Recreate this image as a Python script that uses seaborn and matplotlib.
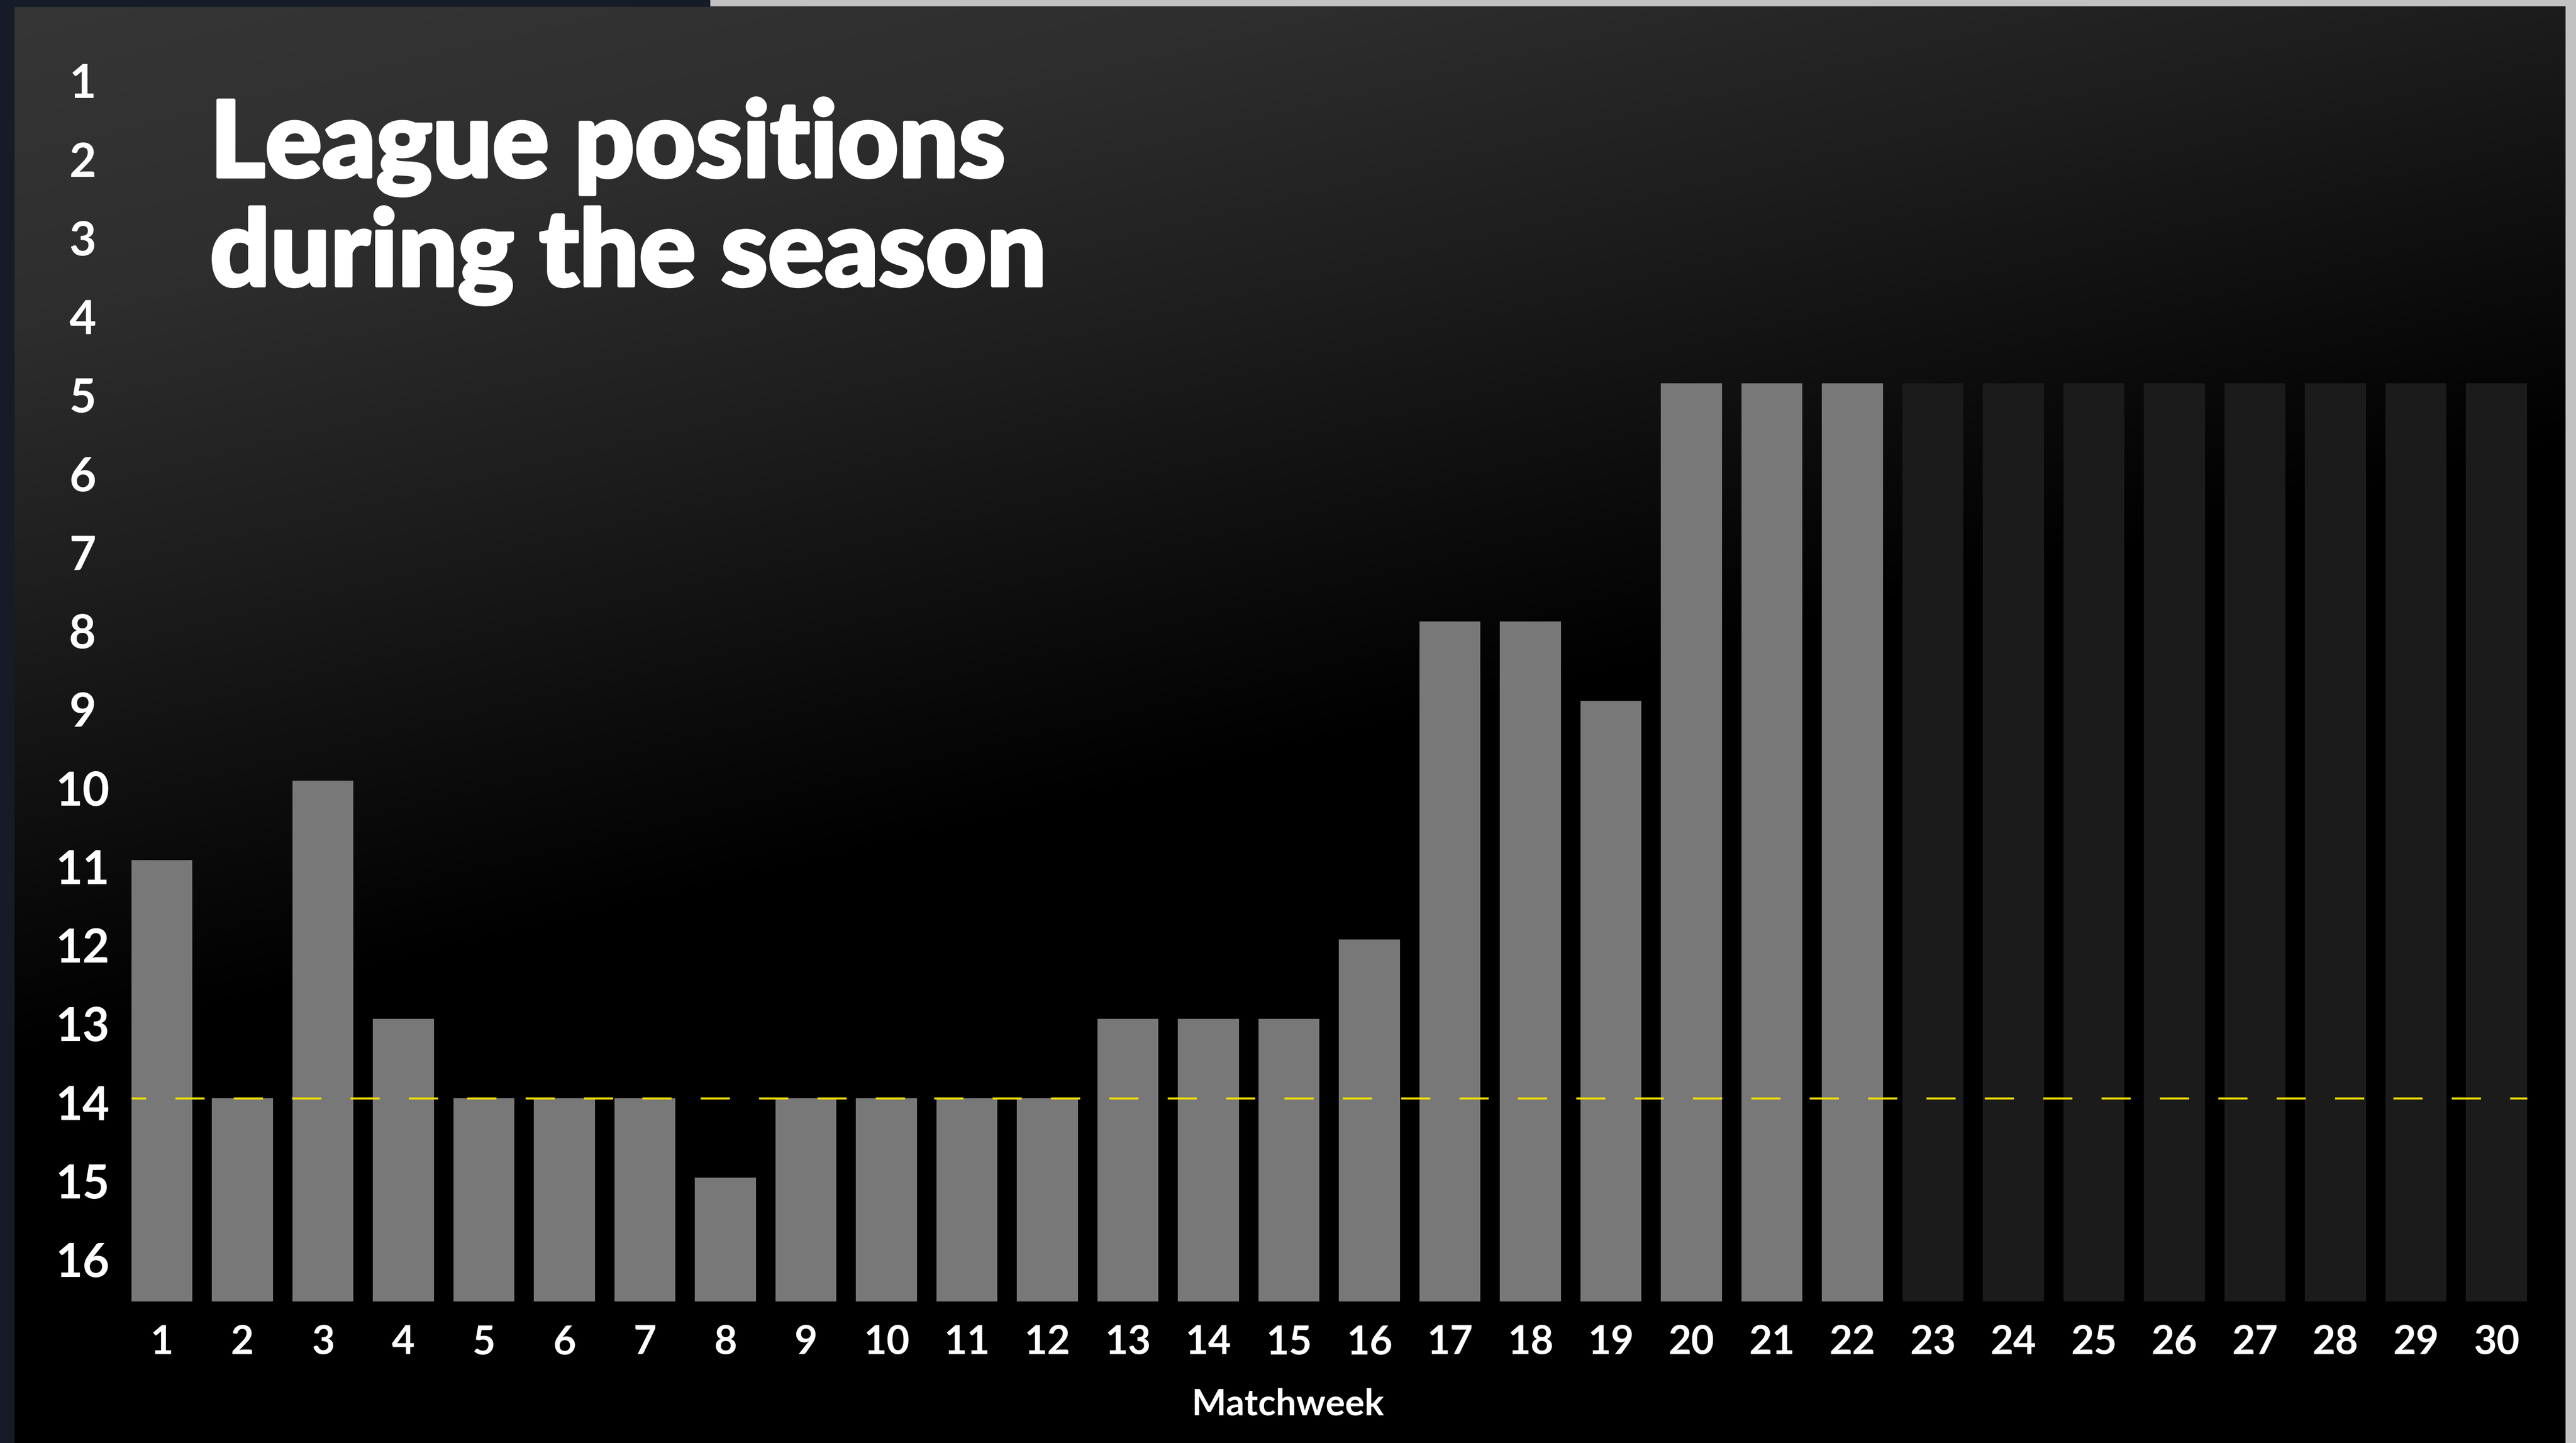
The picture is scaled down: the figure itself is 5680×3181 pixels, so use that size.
import numpy as np
import pandas as pd
import matplotlib
matplotlib.use('Agg')
import matplotlib.pyplot as plt
import matplotlib.patheffects as pe
import seaborn as sns

# data
weeks = [str(w) for w in range(1, 31)]
played = [11, 14, 10, 13, 14, 14, 14, 15, 14, 14, 14, 14, 13, 13, 13, 12, 8, 8, 9, 5, 5, 5]
future = [5, 5, 5, 5, 5, 5, 5, 5]
pos_ticks = list(range(1, 17))
ref_line = 14
title_lines = ['League positions', 'during the season']

BASE = 16.56  # bars start just below position 16

sns.set_theme(style='white')
plt.rcParams['font.family'] = ['Lato', 'DejaVu Sans']

df = pd.DataFrame({
    'week': weeks,
    'position': played + future,
    'status': ['played'] * len(played) + ['future'] * len(future),
})
df['height'] = df['position'] - BASE

W, H = 5680, 3181
fig = plt.figure(figsize=(W / 100, H / 100), dpi=100)
fig.patch.set_facecolor('#c2c2c2')

# photo bits at left / top-left
fig.patches.append(plt.Rectangle((0, 0), 31 / W, 1, transform=fig.transFigure,
                                 color='#151c28', zorder=0))
fig.patches.append(plt.Rectangle((0, 1 - 14 / H), 1565 / W, 14 / H, transform=fig.transFigure,
                                 color='#151c28', zorder=0))

# gradient panel
px0, px1, py0 = 31, 5657, 14
bg = fig.add_axes([px0 / W, 0, (px1 - px0) / W, (H - py0) / H])
xs = np.linspace(px0, px1, 300)
ys = np.linspace(py0, H, 300)
X, Y = np.meshgrid(xs, ys)
t = Y + 0.24 * X
v = np.interp(t, [0, 700, 1350, 2070, 2350], [54, 46, 29, 8, 0]) / 255
bg.imshow(np.dstack([v, v, v]), aspect='auto', interpolation='bilinear',
          extent=[0, 1, 0, 1])
bg.set_axis_off()

# axes: position 14 at y=2421px, 175.1px per place
step, y14 = 175.1, 2421
top_px = y14 - (14 - 0.5) * step
bot_px = y14 + (BASE - 14) * step
ax = fig.add_axes([268.25 / W, 1 - bot_px / H, 5325 / W, (bot_px - top_px) / H])
ax.set_facecolor('none')

sns.barplot(data=df, x='week', y='height', hue='status', order=weeks,
            palette={'played': '#787878', 'future': '#1b1b1b'},
            width=0.755, dodge=False, saturation=1, legend=False,
            bottom=BASE, linewidth=0, ax=ax)

bar_w = 0.755
lw = 3.24
ax.hlines(ref_line, -bar_w / 2, len(weeks) - 1 + bar_w / 2, color='#f2e000',
          linewidth=lw, linestyle=(7.2, (14.3, 14.3)), zorder=5)

ax.set_xlim(-0.5, len(weeks) - 0.5)
ax.set_ylim(BASE, 0.5)
# labels in the original sit slightly lower than their rows, more so at the top
ax.set_yticks([p + 0.19 - (p - 1) * 0.0107 for p in pos_ticks])
ax.set_yticklabels([str(p) for p in pos_ticks])
ax.set_xlabel('')
ax.set_ylabel('')
for s in ax.spines.values():
    s.set_visible(False)
ax.tick_params(axis='y', length=0, pad=62, labelsize=74, labelcolor='white')
ax.tick_params(axis='x', length=0, pad=36, labelsize=63, labelcolor='white')
for lab in ax.get_yticklabels():
    lab.set_horizontalalignment('center')
    lab.set_fontweight('bold')
for lab in ax.get_xticklabels():
    lab.set_fontweight('bold')

fig.text(0.5, 1 - 3119 / H, 'Matchweek', ha='center', va='baseline',
         fontsize=58, fontweight='bold', color='white')

heavy = [pe.withStroke(linewidth=5, foreground='white')]
fig.text(463 / W, 1 - 390 / H, title_lines[0], ha='left', va='baseline',
         fontsize=168, fontweight='black', color='white', path_effects=heavy)
fig.text(463 / W, 1 - 630 / H, title_lines[1], ha='left', va='baseline',
         fontsize=168, fontweight='black', color='white', path_effects=heavy)

fig.savefig('out.png', dpi=100, facecolor=fig.get_facecolor())
